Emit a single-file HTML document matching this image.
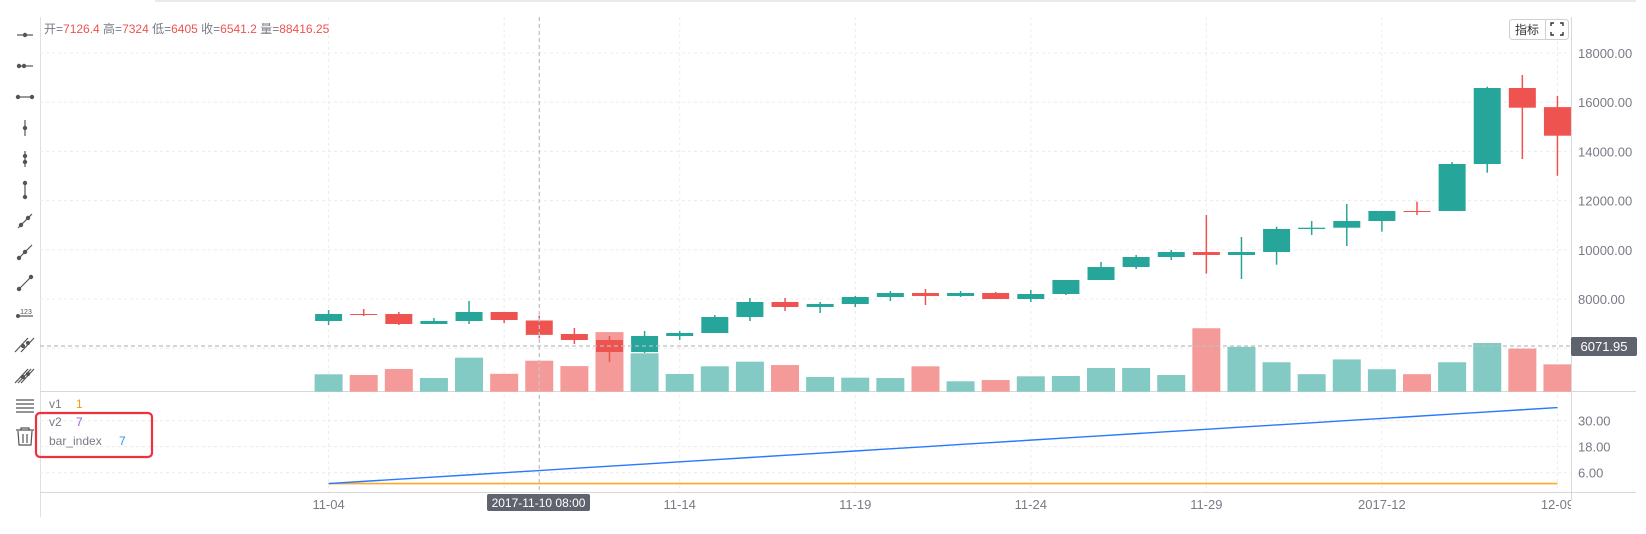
<!DOCTYPE html>
<html><head><meta charset="utf-8">
<style>
html,body{margin:0;padding:0;background:#fff;}
body{width:1646px;height:534px;overflow:hidden;position:relative;font-family:"Liberation Sans","Noto Sans CJK SC",sans-serif;}
svg{position:absolute;left:0;top:0;}
text{font-family:"Liberation Sans","Noto Sans CJK SC",sans-serif;}
</style></head>
<body>
<svg id="chart" width="1646" height="534" xmlns="http://www.w3.org/2000/svg">
  <g id="frame">
    <line x1="155" y1="1" x2="1636" y2="1" stroke="#e3e3e3" stroke-width="1.5"/>
    <line x1="40.5" y1="17" x2="40.5" y2="517" stroke="#e0e0e0"/>
    <line x1="40" y1="391.5" x2="1636" y2="391.5" stroke="#d8d8d8"/>
    <line x1="40" y1="492.5" x2="1636" y2="492.5" stroke="#d8d8d8"/>
  </g>
  <g id="grid"></g>
  <g id="toolbar"></g>
  <g id="volumes"></g>
  <g id="candles"></g>
  <g id="ind"></g>
  <g id="axes"></g>
  <line x1="1571.5" y1="17" x2="1571.5" y2="500" stroke="#d8d8d8"/>
  <g id="cross">
    <line x1="40" y1="346" x2="1571" y2="346" stroke="#bdbdbd" stroke-dasharray="4,3" stroke-width="1.3"/>
    <line x1="539.3" y1="17" x2="539.3" y2="492" stroke="#c4c4c4" stroke-dasharray="4,3" stroke-width="1.3"/>
    <rect x="1571" y="337" width="66" height="19" rx="2" fill="#5f636d"/>
    <text x="1604" y="351" font-size="13" fill="#fff" text-anchor="middle">6071.95</text>
    <rect x="487" y="494" width="103" height="17" rx="2" fill="#5f636d"/>
    <text x="538.5" y="507" font-size="12" fill="#fff" text-anchor="middle">2017-11-10 08:00</text>
  </g>
  <g>
    <text x="44" y="33" font-size="12" fill="#787b86">开=<tspan fill="#ef5350">7126.4</tspan> 高=<tspan fill="#ef5350">7324</tspan> 低=<tspan fill="#ef5350">6405</tspan> 收=<tspan fill="#ef5350">6541.2</tspan> 量=<tspan fill="#ef5350">88416.25</tspan></text>
  </g>
  <g>
    <text x="49" y="408" font-size="12" fill="#787b86">v1</text><text x="76" y="408" font-size="12" fill="#ff9800">1</text>
    <text x="49" y="426" font-size="12" fill="#787b86">v2</text><text x="76" y="426" font-size="12" fill="#9c5ccf">7</text>
    <text x="49" y="445" font-size="12" fill="#787b86">bar_index</text><text x="119" y="445" font-size="12" fill="#2196f3">7</text>
    <rect x="36" y="413" width="116" height="44" rx="4" fill="none" stroke="#f0303c" stroke-width="2.2"/>
  </g>
  <g>
    <rect x="1509.5" y="19.5" width="59" height="20" rx="3" fill="#fff" stroke="#d0d0d0"/>
    <line x1="1545.5" y1="20" x2="1545.5" y2="39" stroke="#d0d0d0"/>
    <text x="1527" y="34" font-size="12" fill="#333" text-anchor="middle">指标</text>
    <g stroke="#333" stroke-width="1.4" fill="none">
      <path d="M1551 26v-3h3M1563 26v-3h-3M1551 32v3h3M1563 32v3h-3"/>
    </g>
  </g>
</svg>
<script>
const dates = ["11-04","11-09","11-14","11-19","11-24","11-29","2017-12","12-09"];
const dateIdx = [0,5,10,15,20,25,30,35];
const openV  = [7106,7390,7390,6984,7106,7472,7126.4,6577,6333,5846,6496,6618,7268,7878,7675,7797,8081,8244,8122,8244,8000,8203,8772,9300,9707,9910,9789,9910,10846,10898,11171,11577,11577,13488,16577,15800];
const highV  = [7553,7594,7472,7228,7919,7472,7324,6821,6496,6699,6699,7350,8040,8040,7878,8122,8325,8406,8325,8285,8366,8772,9504,9789,9992,11415,10520,10939,11171,11862,11577,11955,13569,16630,17106,16252];
const lowV   = [6943,7309,6943,6984,6984,7024,6405,6171,5439,5805,6333,6618,7106,7512,7431,7675,7919,7756,8081,8000,7878,8163,8772,9220,9585,9028,8813,9394,10602,10154,10736,11415,11577,13134,13691,13008];
const closeV = [7390,7360,6984,7106,7472,7146,6541.2,6333,5846,6496,6618,7268,7878,7675,7797,8081,8244,8122,8244,8000,8203,8772,9300,9707,9910,9789,9910,10846,10898,11171,11577,11537,13488,16577,15776,14638];
const volV   = [49600,47600,64700,39000,97000,51000,88416,73000,170000,109500,50500,72400,85600,76000,42000,40000,39000,72400,29700,33400,43900,44800,67600,67600,47600,181000,128000,84000,50000,92000,64000,50000,84000,139000,123000,78000];
const v1V = [1,1,1,1,1,1,1,1,1,1,1,1,1,1,1,1,1,1,1,1,1,1,1,1,1,1,1,1,1,1,1,1,1,1,1,1];
const barIndexV = [1,2,3,4,5,6,7,8,9,10,11,12,13,14,15,16,17,18,19,20,21,22,23,24,25,26,27,28,29,30,31,32,33,34,35,36];
const priceTicks = [18000,16000,14000,12000,10000,8000,6000];
const indTicks = [30,18,6];

const NS="http://www.w3.org/2000/svg";
function mk(tag,attrs,parent){const e=document.createElementNS(NS,tag);for(const k in attrs)e.setAttribute(k,attrs[k]);parent.appendChild(e);return e;}
const xOf = i => 328.6 + i*35.11;
const yP = v => 299 - (v-8000)*0.0246;
const yVol = v => 391.7 - v/2852;
const yInd = v => 472.7 - (v-6)*2.171;

const grid=document.getElementById('grid'), axes=document.getElementById('axes');
priceTicks.forEach(t=>{
  const l=mk('line',{x1:40,x2:1571,y1:yP(t),y2:yP(t),stroke:'#ececec','stroke-dasharray':'3,3'},grid);
  
  
  const tx=mk('text',{x:1578,y:yP(t)+5,'font-size':13,fill:'#787b86'},axes);
  tx.textContent=t.toFixed(2);
  
  
});
indTicks.forEach(t=>{
  const l=mk('line',{x1:40,x2:1571,y1:yInd(t),y2:yInd(t),stroke:'#ececec','stroke-dasharray':'3,3'},grid);
  
  
  const tx=mk('text',{x:1578,y:yInd(t)+5,'font-size':13,fill:'#787b86'},axes);
  tx.textContent=t.toFixed(2);
  
  
});
dateIdx.forEach((di,k)=>{
  const x=xOf(di);
  const l=mk('line',{x1:x,x2:x,y1:17,y2:492,stroke:'#ececec','stroke-dasharray':'3,3'},grid);
  
  
  if(dates[k]==="11-09") return;
  const tx=mk('text',{x:x,y:509,'font-size':13,fill:'#787b86','text-anchor':'middle'},axes);
  tx.textContent=dates[k];
  
  
});
mk('rect',{x:1571,y:494,width:75,height:20,fill:'#fff'},axes);

const vg=document.getElementById('volumes'), cg=document.getElementById('candles');
for(let i=0;i<openV.length;i++){
  const up=closeV[i]>=openV[i];
  const x=xOf(i);
  const vb=mk('rect',{x:x-14,y:yVol(volV[i]),width:28,height:391.7-yVol(volV[i]),fill:up?'#82cac3':'#f49b99'},vg);
  
  
  const col=up?'#26a69a':'#ef5350';
  const w=mk('line',{x1:x,x2:x,y1:yP(highV[i]),y2:yP(lowV[i]),stroke:col,'stroke-width':1.5},cg);
  
  
  const top=yP(Math.max(openV[i],closeV[i])), bot=yP(Math.min(openV[i],closeV[i]));
  const b=mk('rect',{x:x-13.5,y:top,width:27,height:Math.max(1,bot-top),fill:col},cg);
  
  
}
const ig=document.getElementById('ind');
const p1=mk('polyline',{points:v1V.map((v,i)=>xOf(i)+','+yInd(v)).join(' '),fill:'none',stroke:'#ffa726','stroke-width':1.6},ig);


const p2=mk('polyline',{points:barIndexV.map((v,i)=>xOf(i)+','+yInd(v)).join(' '),fill:'none',stroke:'#2979ff','stroke-width':1.4},ig);



const tb=document.getElementById('toolbar');
const iconY=[35,66,97,128,159,190,221,252,283,314,345,376,406,437];
iconY.forEach((y,k)=>{
  const g=mk('g',{stroke:'#555',fill:'#555','stroke-width':1.2},tb);
  
  
  const cx=25;
  if(k<3){mk('line',{x1:17,x2:33,y1:y,y2:y},g);
    const pts=k===0?[cx]:k===1?[19,24]:[18,32];pts.forEach(p=>mk('circle',{cx:p,cy:y,r:1.6},g));}
  else if(k<6){mk('line',{x1:cx,x2:cx,y1:y-8,y2:y+8},g);
    const pts=k===3?[y]:k===4?[y-3,y+3]:[y-7,y+7];pts.forEach(p=>mk('circle',{cx:cx,cy:p,r:1.6},g));}
  else if(k<9){mk('line',{x1:18,x2:32,y1:y+7,y2:y-7},g);
    const pts=k===6?[[21,y+4],[28,y-3]]:k===7?[[19,y+6],[25,y]]:[[19,y+6],[31,y-6]];pts.forEach(p=>mk('circle',{cx:p[0],cy:p[1],r:1.6},g));}
  else if(k===9){mk('line',{x1:18,x2:33,y1:y+2,y2:y+2},g);mk('circle',{cx:18,cy:y+2,r:1.4},g);
    const t=mk('text',{x:26,y:y,'font-size':7,'text-anchor':'middle',stroke:'none'},g);t.textContent='123';}
  else if(k<12){for(let j=-1;j<=1;j+=(k===10?2:1)){mk('line',{x1:18+j*3,x2:31+j*3,y1:y+7,y2:y-7},g);}
    mk('circle',{cx:23,cy:y+1,r:1.5},g);mk('circle',{cx:28,cy:y-2,r:1.5},g);}
  else if(k===12){[-6,-2,2,6].forEach(d=>mk('line',{x1:16,x2:34,y1:y+d,y2:y+d},g));}
  else {mk('path',{d:`M16 ${y-7}h18M21 ${y-7}v-2h8v2M18 ${y-6}l1 14h12l1-14M23 ${y-3}v9M27 ${y-3}v9`,fill:'none'},g);}
});
</script>
</body></html>
